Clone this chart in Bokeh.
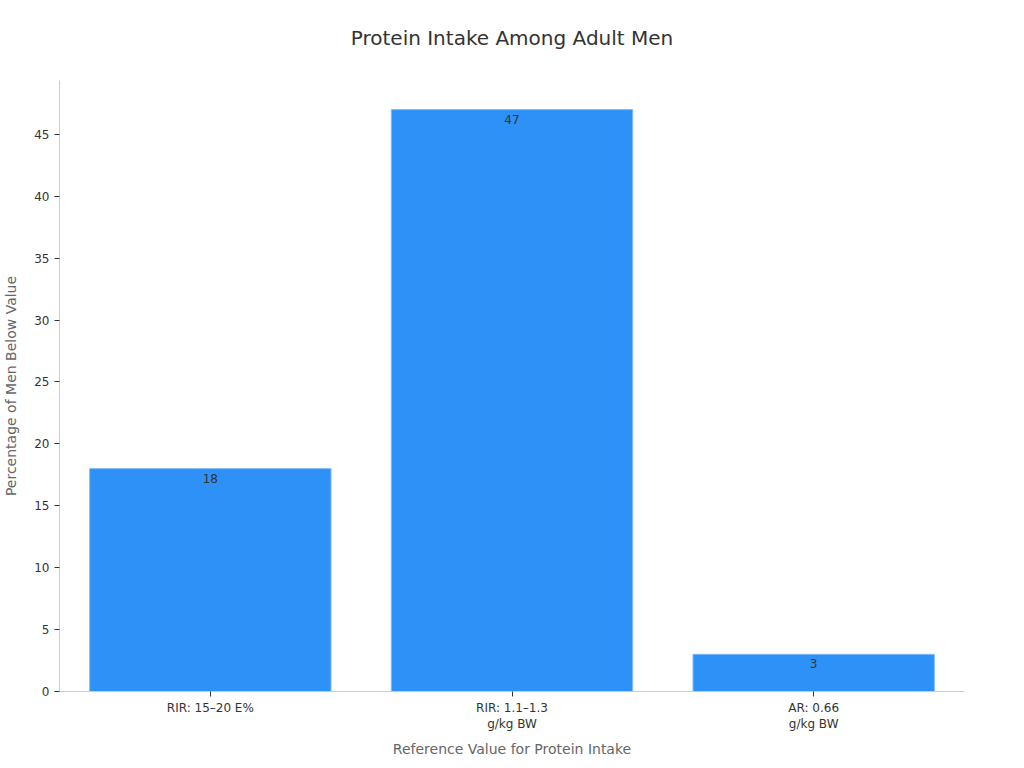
from bokeh.plotting import figure
from bokeh.models import ColumnDataSource, Range1d, SingleIntervalTicker
from bokeh.core.properties import value
from bokeh.embed import file_html
from bokeh.resources import INLINE

categories = ["RIR: 15\u201320 E%", "RIR: 1.1\u20131.3\ng/kg BW", "AR: 0.66\ng/kg BW"]
percent_below = [18, 47, 3]
title = "Protein Intake Among Adult Men"

FONT = "DejaVu Sans"

src = ColumnDataSource(data=dict(cat=categories, val=percent_below,
                                 lbl=[str(v) for v in percent_below]))

y_top = max(percent_below) * 1.05
p = figure(x_range=categories, y_range=Range1d(0, y_top),
           width=1008, height=760, output_backend="svg", toolbar_location=None,
           min_border_left=52, min_border_right=44, min_border_top=80,
           min_border_bottom=60)

# trailing blank line lifts the title further away from the frame
p.title.text = title + "\n "
p.title.align = "center"
p.title.vertical_align = "top"
p.title.text_font = FONT
p.title.text_font_size = "20px"
p.title.text_font_style = "normal"
p.title.text_color = "#333333"
p.title.standoff = 10

p.vbar(x="cat", top="val", width=0.8, source=src,
       fill_color="#2E91F8", line_color="#7DB9F7", line_width=1)
p.text(x="cat", y="val", text="lbl", source=src, text_align="center",
       text_baseline="top", y_offset=5, text_font=value(FONT),
       text_font_size="12px", text_color="#333333")

p.xgrid.visible = False
p.ygrid.visible = False
p.outline_line_color = None
p.x_range.range_padding = 0

p.yaxis.ticker = SingleIntervalTicker(interval=5)
p.yaxis.axis_label = "Percentage of Men Below Value"
p.xaxis.axis_label = "Reference Value for Protein Intake"
for ax in (p.xaxis[0], p.yaxis[0]):
    ax.axis_line_color = "#cccccc"
    ax.major_tick_line_color = "#333333"
    ax.major_tick_in = 0
    ax.major_tick_out = 5
    ax.minor_tick_line_color = None
    ax.major_label_text_font = FONT
    ax.major_label_text_font_size = "12px"
    ax.major_label_text_color = "#333333"
    ax.axis_label_text_font = FONT
    ax.axis_label_text_font_size = "14px"
    ax.axis_label_text_font_style = "normal"
    ax.axis_label_text_color = "#666666"
p.xaxis.major_label_standoff = 4
p.xaxis.axis_label_standoff = 7
p.yaxis.axis_label_standoff = 12

open("out.html", "w").write(file_html(p, INLINE))
